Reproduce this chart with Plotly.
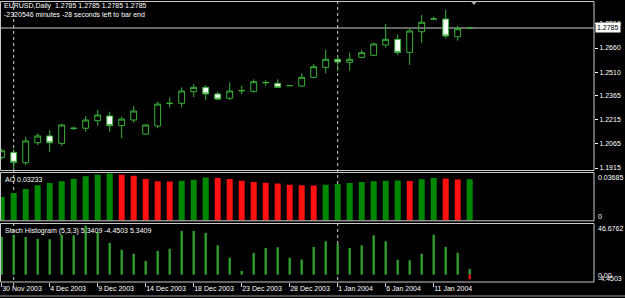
import plotly.graph_objects as go
from datetime import datetime

# ---------------- data ----------------
dates = ["2003-11-30", "2003-12-01", "2003-12-02", "2003-12-03", "2003-12-04", "2003-12-05",
         "2003-12-07", "2003-12-08", "2003-12-09", "2003-12-10", "2003-12-11", "2003-12-12",
         "2003-12-14", "2003-12-15", "2003-12-16", "2003-12-17", "2003-12-18", "2003-12-19",
         "2003-12-21", "2003-12-22", "2003-12-23", "2003-12-24", "2003-12-25", "2003-12-26",
         "2003-12-28", "2003-12-29", "2003-12-30", "2003-12-31", "2004-01-01", "2004-01-02",
         "2004-01-04", "2004-01-05", "2004-01-06", "2004-01-07", "2004-01-08", "2004-01-09",
         "2004-01-11", "2004-01-12", "2004-01-13", "2004-01-14"]

opens = [1.1981, 1.2012, 1.1948, 1.2072, 1.2114, 1.2068, 1.2160, 1.2162, 1.2209, 1.2238,
         1.2178, 1.2213, 1.2126, 1.2176, 1.2315, 1.2317, 1.2389, 1.2416, 1.2375, 1.2348,
         1.2394, 1.2391, 1.2444, 1.2441, 1.2426, 1.2424, 1.2478, 1.2540, 1.2590, 1.2571,
         1.2602, 1.2615, 1.2679, 1.2714, 1.2633, 1.2761, 1.2840, 1.2840, 1.2730, 1.2785]
highs = [1.2035, 1.2031, 1.2109, 1.2130, 1.2151, 1.2188, 1.2171, 1.2238, 1.2275, 1.2265,
         1.2234, 1.2300, 1.2186, 1.2327, 1.2354, 1.2416, 1.2437, 1.2430, 1.2389, 1.2447,
         1.2426, 1.2466, 1.2461, 1.2466, 1.2429, 1.2503, 1.2561, 1.2648, 1.2617, 1.2631,
         1.2648, 1.2693, 1.2809, 1.2745, 1.2783, 1.2865, 1.2855, 1.2896, 1.2797, 1.2785]
lows = [1.1970, 1.1905, 1.1934, 1.2058, 1.2016, 1.2052, 1.2151, 1.2140, 1.2176, 1.2140,
        1.2099, 1.2196, 1.2120, 1.2162, 1.2292, 1.2292, 1.2354, 1.2337, 1.2337, 1.2337,
        1.2375, 1.2383, 1.2426, 1.2410, 1.2423, 1.2420, 1.2472, 1.2503, 1.2519, 1.2519,
        1.2596, 1.2612, 1.2663, 1.2617, 1.2555, 1.2693, 1.2834, 1.2720, 1.2706, 1.2785]
closes = [1.2022, 1.1950, 1.2083, 1.2114, 1.2072, 1.2182, 1.2162, 1.2213, 1.2244, 1.2178,
          1.2219, 1.2269, 1.2182, 1.2312, 1.2317, 1.2393, 1.2416, 1.2375, 1.2343, 1.2393,
          1.2396, 1.2451, 1.2446, 1.2416, 1.2427, 1.2478, 1.2544, 1.2590, 1.2573, 1.2590,
          1.2631, 1.2685, 1.2714, 1.2633, 1.2766, 1.2820, 1.2841, 1.2735, 1.2780, 1.2785]

ao_values = [0.0184, 0.0216, 0.0247, 0.0276, 0.0294, 0.0307, 0.0328, 0.0347, 0.0359, 0.03685,
             0.0359, 0.0351, 0.0325, 0.0307, 0.0306, 0.0312, 0.0320, 0.0336, 0.0333, 0.0325,
             0.0312, 0.0302, 0.0296, 0.0289, 0.0280, 0.0277, 0.0275, 0.0281, 0.0286, 0.0294,
             0.0302, 0.0307, 0.0312, 0.0313, 0.0310, 0.0323, 0.0332, 0.0329, 0.0321, 0.03233]

stoch_up = [36.0, 38.0, 35.8, 34.2, 33.6, 38.0, 37.4, 46.6762, 40.5, 30.1,
            23.7, 19.9, 13.0, 22.5, 24.7, 41.5, 41.5, 39.6, 27.9, 16.1,
            3.5, 20.6, 25.3, 26.0, 16.1, 14.4, 26.3, 31.7, 29.4, 25.3,
            27.9, 37.4, 31.7, 14.2, 13.7, 19.9, 38.0, 26.3, 20.9, 5.3409]
stoch_down = [0.0] * 39 + [-4.4503]

price_ticks = [1.1915, 1.2065, 1.2215, 1.2365, 1.2510, 1.2660, 1.2810]
price_tick_labels = ["1.1915", "1.2065", "1.2215", "1.2365", "1.2510", "1.2660", "1.2810"]
ao_labels = ["0.03685", "0"]
stoch_labels = ["46.6762", "0.00", "-4.4503"]

title_main = "EURUSD,Daily&nbsp; 1.2785 1.2785 1.2785 1.2785"
title_timer = "-2320546 minutes -28 seconds left to bar end"
title_ao = "AO 0.03233"
title_stoch = "Stoch Histogram (5,3,3) 5.3409 -4.4503 5.3409"

# ---------------- helpers ----------------
W, H = 625, 298
def px(x):
    return x / W
def py(y):
    return 1 - y / H

idx = list(range(len(dates)))
dts = [datetime.strptime(d, "%Y-%m-%d") for d in dates]
tick_idx = idx[::4]
tick_txt = [f"{dts[i].day} {dts[i].strftime('%b')} {dts[i].year}" for i in tick_idx]
sep_idx = [i for i in idx[1:] if dts[i].month != dts[i - 1].month]

GREEN_C = "#38b038"
FONT = "Liberation Sans, Arial, sans-serif"
FS = 7
GRID_C = "#c8c8c8"

ao_colors = []
for i, v in enumerate(ao_values):
    if i == 0 or v >= ao_values[i - 1]:
        ao_colors.append("#008800")
    else:
        ao_colors.append("#ff1010")

fig = go.Figure()
fig.add_trace(go.Candlestick(
    x=idx, open=opens, high=highs, low=lows, close=closes,
    increasing=dict(line=dict(color=GREEN_C, width=1), fillcolor="rgba(0,0,0,0)"),
    decreasing=dict(line=dict(color=GREEN_C, width=1), fillcolor="#f4fff4"),
    whiskerwidth=0, xaxis="x", yaxis="y", hoverinfo="skip"))
fig.add_trace(go.Bar(x=idx, y=ao_values, marker=dict(color=ao_colors, line=dict(width=0)),
                     width=0.5, xaxis="x", yaxis="y2", hoverinfo="skip"))
fig.add_trace(go.Bar(x=idx, y=stoch_up, marker=dict(color="#2f9a2f", line=dict(width=0)),
                     width=0.2, xaxis="x", yaxis="y3", hoverinfo="skip"))
fig.add_trace(go.Bar(x=idx, y=stoch_down, marker=dict(color="#e01818", line=dict(width=0)),
                     width=0.2, xaxis="x", yaxis="y3", hoverinfo="skip"))

x_left = -1.7 / 12
x_right = (594 - 1.7) / 12

fig.update_layout(
    width=W, height=H, margin=dict(l=0, r=0, t=0, b=0, autoexpand=False),
    paper_bgcolor="black", plot_bgcolor="black",
    showlegend=False, hovermode=False, barmode="overlay",
    font=dict(family=FONT, size=FS, color="white"),
    xaxis=dict(domain=[0, px(594)], range=[x_left, x_right], anchor="y3", automargin=False,
               rangeslider=dict(visible=False), showgrid=False, zeroline=False,
               showline=False, tickmode="array", tickvals=tick_idx, ticktext=tick_txt,
               ticks="outside", ticklen=4, tickcolor=GRID_C, tickwidth=1, tickangle=0,
               ticklabelposition="outside right",
               tickfont=dict(family=FONT, size=FS, color="white")),
    yaxis=dict(domain=[py(170.5), py(1.5)], range=[1.18995, 1.2949], anchor="x",
               automargin=False,
               side="right", showgrid=False, zeroline=False, showline=False,
               tickmode="array", tickvals=price_ticks, ticktext=price_tick_labels,
               ticks="outside", ticklen=3, tickcolor="white",
               tickfont=dict(family=FONT, size=FS, color="white")),
    yaxis2=dict(domain=[py(220.8), py(172.5)], range=[-0.0002, 0.0376], anchor="x",
                automargin=False,
                side="right", showgrid=False, zeroline=False, showline=False,
                showticklabels=False, ticks=""),
    yaxis3=dict(domain=[py(282), py(223.5)], range=[-6.93, 48.6], anchor="x",
                automargin=False,
                side="right", showgrid=False, zeroline=False, showline=False,
                showticklabels=False, ticks=""),
)

shapes = []
# panel borders
for (t, b) in [(1.5, 170.5), (172.5, 220.8), (223.5, 282)]:
    shapes.append(dict(type="rect", xref="paper", yref="paper", x0=px(0.5), x1=px(594),
                       y0=py(b), y1=py(t), line=dict(color=GRID_C, width=1), layer="above"))
shapes.append(dict(type="line", xref="paper", yref="paper", x0=0, x1=1, y0=py(296), y1=py(296),
                   line=dict(color="#9a9a9a", width=1)))
# bid line
shapes.append(dict(type="line", xref="paper", yref="y", x0=px(0.5), x1=px(594),
                   y0=closes[-1], y1=closes[-1], line=dict(color="#8a8a8a", width=1.5),
                   layer="below"))
# month separators
for i in sep_idx:
    shapes.append(dict(type="line", xref="x", yref="paper", x0=i, x1=i, y0=py(286), y1=py(2),
                       line=dict(color="#d0d0d0", width=1, dash="dot"), layer="below"))
# chart shift marker
shapes.append(dict(type="path", xref="paper", yref="paper",
                   path=f"M {px(470.5)} {py(1)} L {px(477.5)} {py(1)} L {px(474)} {py(5)} Z",
                   fillcolor="#b0b0b0", line=dict(width=0)))
fig.update_layout(shapes=shapes)

ann = []
def label(text, x, y, **kw):
    d = dict(text=text, xref="paper", yref="paper", x=px(x), y=py(y), xanchor="left",
             yanchor="middle", showarrow=False,
             font=dict(family=FONT, size=FS, color=kw.pop("color", "white")))
    d.update(kw)
    ann.append(d)

label(title_main, 2, 6.5)
label(title_timer, 2, 15)
label(title_ao, 2.5, 179.5)
label(title_stoch, 2.5, 231)
label(ao_labels[0], 596, 177.7)
label(ao_labels[1], 596, 216.7)
label(stoch_labels[0], 596, 228.3)
label(stoch_labels[1], 596, 275)
label(stoch_labels[2], 596, 278)
ann.append(dict(text=f"{closes[-1]:.4f}", xref="paper", yref="y", x=px(595), y=closes[-1],
                xanchor="left", yanchor="middle", showarrow=False, bgcolor="white",
                borderpad=1, font=dict(family=FONT, size=FS, color="black")))
fig.update_layout(annotations=ann)

fig.write_html("out.html", config={"displayModeBar": False})
